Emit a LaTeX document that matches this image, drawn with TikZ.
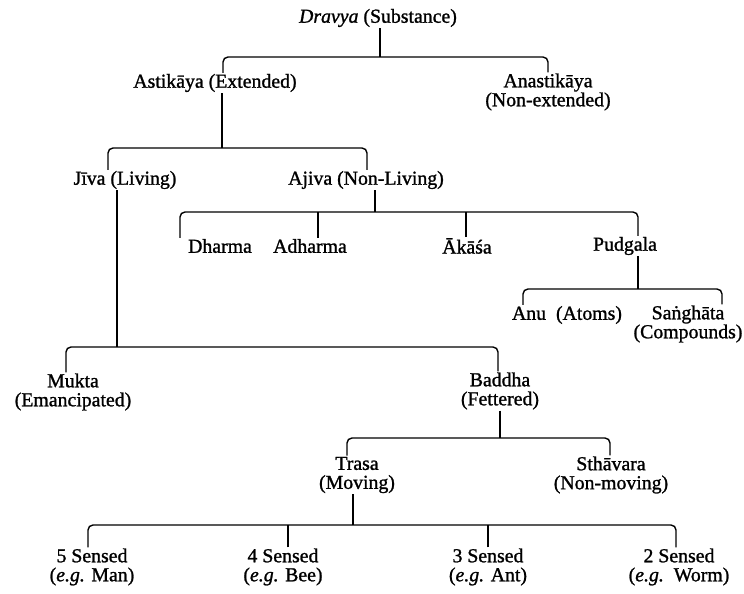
\documentclass[tikz,border=0pt]{standalone}
\usepackage{fontspec}
\setmainfont{Liberation Serif}[FakeBold=1.2]
\tikzset{
  lbl/.style={inner sep=1pt, align=center, font=\fontsize{19.8}{19}\selectfont},
  ln/.style={line width=1.3pt},
  br/.style={line width=1.4pt, rounded corners=5pt}
}
\begin{document}
\begin{tikzpicture}[x=1pt,y=-1pt]
\fill[white] (0,0) rectangle (744,594);
\useasboundingbox (0,0) rectangle (744,594);
% labels
\node[lbl] (drv) at (378,18) {\textit{Dravya} (Substance)};
\node[lbl] (ast) at (215,83) {Astikāya (Extended)};
\node[lbl] (anast) at (548,92) {Anastikāya\\(Non-extended)};
\node[lbl] (jiva) at (125,180) {Jīva (Living)};
\node[lbl] (ajiva) at (366,180) {Ajiva (Non-Living)};
\node[lbl] (dharma) at (220,246) {Dharma};
\node[lbl] (adharma) at (310,246) {Adharma};
\node[lbl] (akasa) at (467,246) {Ākāśa};
\node[lbl] (pudgala) at (625,246) {Pudgala};
\node[lbl] (anu) at (567,315) {Anu\ \ (Atoms)};
\node[lbl] (sangh) at (688,324) {Sa\.{n}ghāta\\(Compounds)};
\node[lbl] (mukta) at (73,392) {Mukta\\(Emancipated)};
\node[lbl] (baddha) at (500,391) {Baddha\\(Fettered)};
\node[lbl] (trasa) at (357,475) {Trasa\\(Moving)};
\node[lbl] (sthav) at (611,475) {Sthāvara\\(Non-moving)};
\node[lbl] (s5) at (92,567) {5 Sensed\\(\textit{e.g.} Man)};
\node[lbl] (s4) at (283,567) {4 Sensed\\(\textit{e.g.} Bee)};
\node[lbl] (s3) at (488,567) {3 Sensed\\(\textit{e.g.} Ant)};
\node[lbl] (s2) at (679,567) {2 Sensed\\(\textit{e.g.}\ \ Worm)};
% Dravya
\draw[ln] (drv.south -| 380,0) -- (380,57);
\draw[br] (ast.north -| 223,0) -- (223,57) -- (548,57) -- (anast.north -| 548,0);
% Astikaya
\draw[ln] (ast.south -| 222,0) -- (222,148);
\draw[br] (jiva.north -| 108,0) -- (108,148) -- (367,148) -- (ajiva.north -| 367,0);
% Ajiva
\draw[ln] (ajiva.south -| 375,0) -- (375,212);
\draw[br] (dharma.north -| 180,0) -- (180,212) -- (638,212) -- (pudgala.north -| 638,0);
\draw[ln] (adharma.north -| 318,0) -- (318,212);
\draw[ln] (akasa.north -| 466,0) -- (466,212);
% Pudgala
\draw[ln] (pudgala.south -| 638,0) -- (638,289);
\draw[br] (anu.north -| 523,0) -- (523,289) -- (722,289) -- (sangh.north -| 722,0);
% Jiva
\draw[ln] (jiva.south -| 117,0) -- (117,347);
\draw[br] (mukta.north -| 66,0) -- (66,347) -- (498,347) -- (baddha.north -| 498,0);
% Baddha
\draw[ln] (baddha.south -| 500,0) -- (500,438);
\draw[br] (trasa.north -| 347,0) -- (347,438) -- (610,438) -- (sthav.north -| 610,0);
% Trasa
\draw[ln] (trasa.south -| 353,0) -- (353,525);
\draw[br] (s5.north -| 88,0) -- (88,525) -- (676,525) -- (s2.north -| 676,0);
\draw[ln] (s4.north -| 288,0) -- (288,525);
\draw[ln] (s3.north -| 488,0) -- (488,525);
\end{tikzpicture}
\end{document}
